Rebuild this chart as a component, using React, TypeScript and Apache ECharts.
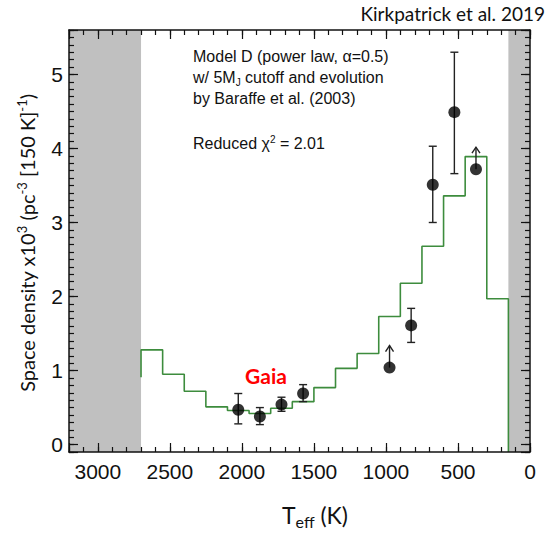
import React, { useEffect, useRef } from "react";
import * as echarts from "echarts";

// ---- data ----
// model histogram (150 K bins), edges from hot to cool
const binEdges = [2700, 2550, 2400, 2250, 2100, 1950, 1800, 1650, 1500, 1350, 1200, 1050, 900, 750, 600, 450, 300, 150];
const modelValues = [1.28, 0.95, 0.72, 0.51, 0.46, 0.42, 0.49, 0.58, 0.77, 1.03, 1.23, 1.73, 2.18, 2.68, 3.36, 3.89, 1.97];
const modelLeftTail = 0.91;

// measured space densities
const pointTeff = [2025, 1875, 1725, 1575, 975, 825, 675, 525, 375];
const pointDensity = [0.47, 0.38, 0.54, 0.69, 1.04, 1.61, 3.51, 4.49, 3.72];
const errLow: (number | null)[] = [0.28, 0.27, 0.45, 0.58, null, 1.38, 3.0, 3.66, null];
const errHigh: (number | null)[] = [0.69, 0.5, 0.64, 0.81, null, 1.84, 4.03, 5.3, null];
const isLowerLimit = [false, false, false, false, true, false, false, false, true];

// excluded regions
const grayBands = [[3200, 2700], [150, 0]];

const xMin = 0;
const xMax = 3200;
const yMin = -0.1;
const yMax = 5.6;

const SANS = "'Liberation Sans', Arial, sans-serif";
const CAL = "Lato, 'Open Sans', sans-serif";

export default function App() {
  const ref = useRef<HTMLDivElement>(null);

  useEffect(() => {
    if (!ref.current) return;
    const chart = echarts.init(ref.current, null, { renderer: "svg" });

    const stepData: number[][] = [[binEdges[0], modelLeftTail]];
    for (let i = 0; i < modelValues.length; i++) {
      stepData.push([binEdges[i], modelValues[i]]);
      stepData.push([binEdges[i + 1], modelValues[i]]);
    }
    stepData.push([binEdges[binEdges.length - 1], yMin]);

    const pts = pointTeff.map((t, i) => [t, pointDensity[i]]);
    const errs = pointTeff
      .map((t, i) => (errLow[i] != null && errHigh[i] != null ? [t, errLow[i] as number, errHigh[i] as number] : null))
      .filter((d) => d != null) as number[][];
    const limits = pointTeff.map((t, i) => (isLowerLimit[i] ? [t, pointDensity[i]] : null)).filter((d) => d != null) as number[][];

    const black = "#111";
    const axisBase = { type: "value" as const, splitLine: { show: false }, z: 10 };

    const xMajor = (pos: "bottom" | "top", labels: boolean) => ({
      ...axisBase,
      position: pos,
      min: xMin,
      max: xMax,
      interval: 500,
      inverse: true,
      offset: 0,
      axisLine: { show: true, onZero: false, lineStyle: { color: black, width: 1.5 } },
      axisTick: { show: true, inside: true, length: 9, lineStyle: { color: black, width: 1.2 } },
      axisLabel: {
        show: labels,
        margin: 9,
        fontSize: 21,
        color: black,
        fontFamily: SANS,
        formatter: (v: number) => (v % 500 === 0 ? String(v) : ""),
      },
    });
    const xMinor = (pos: "bottom" | "top") => ({
      ...axisBase,
      position: pos,
      min: xMin,
      max: xMax,
      interval: 100,
      inverse: true,
      offset: 0,
      axisLine: { show: false, onZero: false },
      axisTick: { show: true, inside: true, length: 5, lineStyle: { color: black, width: 1.2 } },
      axisLabel: { show: false },
    });
    const yMajor = (pos: "left" | "right", labels: boolean) => ({
      ...axisBase,
      position: pos,
      min: yMin,
      max: yMax,
      splitNumber: 6,
      offset: 0,
      axisLine: { show: true, onZero: false, lineStyle: { color: black, width: 1.5 } },
      axisTick: { show: true, inside: true, length: 9, lineStyle: { color: black, width: 1.2 } },
      axisLabel: {
        show: labels,
        margin: 6,
        fontSize: 21,
        color: black,
        fontFamily: SANS,
        formatter: (v: number) => (Math.abs(v - Math.round(v)) < 1e-6 ? String(Math.round(v)) : ""),
      },
    });
    const yMinor = (pos: "left" | "right") => ({
      ...axisBase,
      position: pos,
      min: yMin,
      max: yMax,
      interval: 0.1,
      offset: 0,
      axisLine: { show: false, onZero: false },
      axisTick: { show: true, inside: true, length: 5, lineStyle: { color: black, width: 1.2 } },
      axisLabel: { show: false },
    });

    const option: any = {
      animation: false,
      backgroundColor: "#fff",
      grid: { left: 69, top: 30, width: 461, height: 422, outerBoundsMode: "none" },
      xAxis: [xMajor("bottom", true), xMinor("bottom"), xMajor("top", false), xMinor("top")],
      yAxis: [yMajor("left", true), yMinor("left"), yMajor("right", false), yMinor("right")],
      series: [
        {
          type: "line",
          name: "model",
          data: stepData,
          xAxisIndex: 0,
          yAxisIndex: 0,
          symbol: "none",
          lineStyle: { color: "#3d8c3d", width: 1.6 },
          z: 3,
          markArea: {
            silent: true,
            itemStyle: { color: "#c0c0c0", opacity: 1 },
            data: grayBands.map((b) => [{ xAxis: b[0] }, { xAxis: b[1] }]),
          },
        },
        {
          type: "custom",
          name: "errors",
          xAxisIndex: 0,
          yAxisIndex: 0,
          data: errs,
          encode: { x: 0, y: [1, 2] },
          z: 4,
          renderItem: (_p: any, api: any) => {
            const x = api.value(0);
            const lo = api.coord([x, api.value(1)]);
            const hi = api.coord([x, api.value(2)]);
            const cap = 4;
            const st = { stroke: "#222", lineWidth: 1.4 };
            return {
              type: "group",
              children: [
                { type: "line", shape: { x1: lo[0], y1: lo[1], x2: hi[0], y2: hi[1] }, style: st },
                { type: "line", shape: { x1: lo[0] - cap, y1: lo[1], x2: lo[0] + cap, y2: lo[1] }, style: st },
                { type: "line", shape: { x1: hi[0] - cap, y1: hi[1], x2: hi[0] + cap, y2: hi[1] }, style: st },
              ],
            };
          },
        },
        {
          type: "custom",
          name: "limits",
          xAxisIndex: 0,
          yAxisIndex: 0,
          data: limits,
          encode: { x: 0, y: 1 },
          z: 4,
          renderItem: (_p: any, api: any) => {
            const p = api.coord([api.value(0), api.value(1)]);
            const top = p[1] - 22;
            const st = { stroke: "#222", lineWidth: 1.4, fill: "none" };
            return {
              type: "group",
              children: [
                { type: "line", shape: { x1: p[0], y1: p[1], x2: p[0], y2: top }, style: st },
                { type: "polyline", shape: { points: [[p[0] - 4, top + 6], [p[0], top], [p[0] + 4, top + 6]] }, style: st },
              ],
            };
          },
        },
        {
          type: "scatter",
          name: "data",
          xAxisIndex: 0,
          yAxisIndex: 0,
          data: pts,
          symbol: "circle",
          symbolSize: 12,
          itemStyle: { color: "#000" },
          z: 5,
        },
      ],
      graphic: [
        {
          type: "text",
          right: 5,
          top: 4,
          style: { text: "Kirkpatrick et al. 2019", font: `19px ${CAL}`, fill: "#111" },
        },
        {
          type: "text",
          left: 193,
          top: 46,
          style: {
            text: "Model D (power law, α=0.5)\nw/ 5M{sub|J} cutoff and evolution\nby Baraffe et al. (2003)",
            font: `16px ${SANS}`,
            fill: "#111",
            lineHeight: 21,
            rich: {
              sub: { font: `10px ${SANS}`, fill: "#111", padding: [9, 0, 0, 0], lineHeight: 21 },
            },
          },
        },
        {
          type: "text",
          left: 193,
          top: 133,
          style: {
            text: "Reduced χ{sup|2} = 2.01",
            font: `16px ${SANS}`,
            fill: "#111",
            lineHeight: 21,
            rich: {
              sup: { font: `10px ${SANS}`, fill: "#111", padding: [0, 0, 9, 0], lineHeight: 21 },
            },
          },
        },
        {
          type: "text",
          x: 266,
          y: 375,
          style: {
            text: "Gaia",
            font: `bold 21px ${CAL}`,
            fill: "#ff0000",
            align: "center",
            verticalAlign: "middle",
          },
        },
        {
          type: "text",
          x: 315,
          y: 515,
          style: {
            text: "T{sub|eff} (K)",
            font: `23px ${CAL}`,
            fill: "#111",
            align: "center",
            verticalAlign: "middle",
            lineHeight: 26,
            rich: { sub: { font: `16px ${CAL}`, fill: "#111", padding: [12, 0, 0, 0], lineHeight: 26 } },
          },
        },
        {
          type: "text",
          x: 27,
          y: 243,
          rotation: Math.PI / 2,
          style: {
            text: "Space density x10{sup|3} (pc{sup|-3} [150 K]{sup|-1})",
            font: `20px ${CAL}`,
            fill: "#111",
            align: "center",
            verticalAlign: "middle",
            lineHeight: 24,
            rich: { sup: { font: `13px ${CAL}`, fill: "#111", padding: [0, 0, 10, 0], lineHeight: 24 } },
          },
        },
      ],
    };

    chart.setOption(option);
    return () => chart.dispose();
  }, []);

  return <div ref={ref} style={{ position: "fixed", left: 0, top: 0, width: 550, height: 535 }} />;
}
